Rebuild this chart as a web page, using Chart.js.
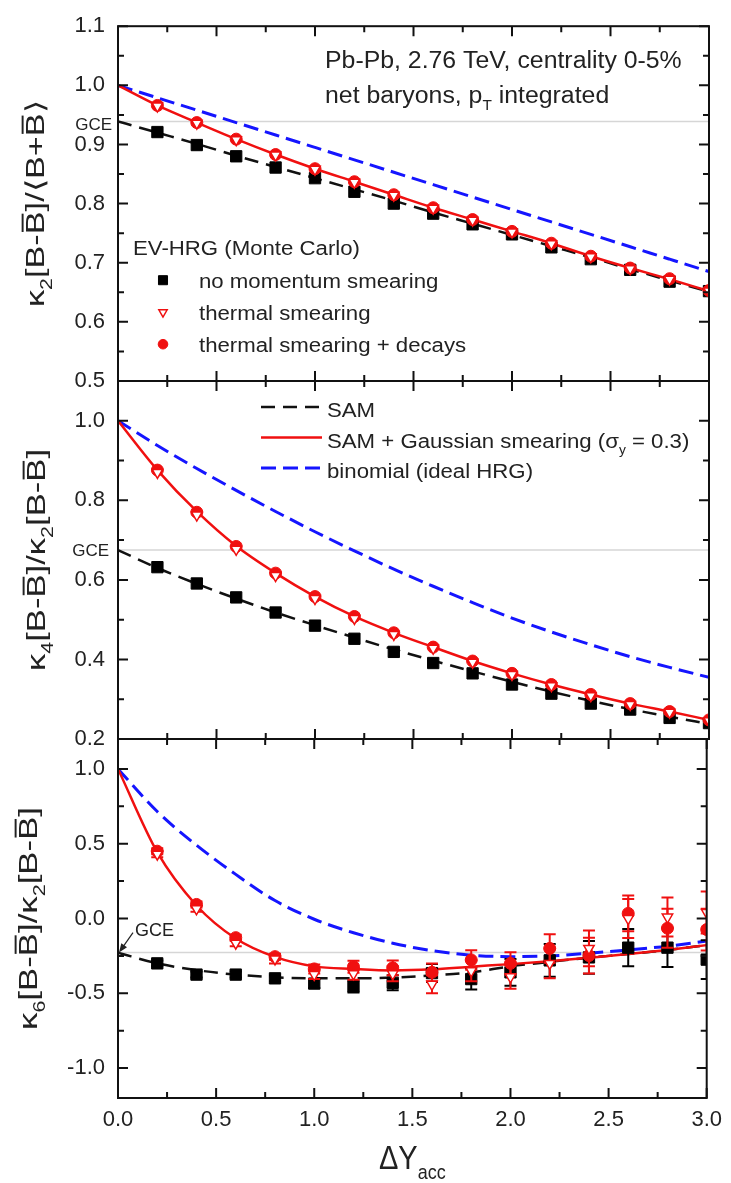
<!DOCTYPE html>
<html>
<head>
<meta charset="utf-8">
<script src="https://cdn.jsdelivr.net/npm/chart.js@4.4.1/dist/chart.umd.min.js"></script>
<style>
    html, body { margin: 0; padding: 0; background: #fff; }
    #wrap { position: relative; width: 731px; height: 1183px; }
    canvas { position: absolute; left: 0; top: 0; }
</style>
</head>
<body>
<div id="wrap">
    <canvas id="k2" width="731" height="1183"></canvas>
    <canvas id="k4" width="731" height="1183"></canvas>
    <canvas id="k6" width="731" height="1183"></canvas>
</div>
<script>
const FONT = "'Liberation Sans', Arial, Helvetica, sans-serif";

// shared x values (Delta Y_acc)
const dyPoints = [0.2, 0.4, 0.6, 0.8, 1.0, 1.2, 1.4, 1.6, 1.8, 2.0, 2.2, 2.4, 2.6, 2.8, 3.0];
const dyCurve = [0, 0.2, 0.4, 0.6, 0.8, 1.0, 1.2, 1.4, 1.6, 1.8, 2.0, 2.2, 2.4, 2.6, 2.8, 3.0];
const xTickVals = [0, 0.5, 1.0, 1.5, 2.0, 2.5, 3.0];
const xRange = [0, 3];

// panel 1: kappa2 / <B+Bbar>
const k2Ticks = [0.5, 0.6, 0.7, 0.8, 0.9, 1.0, 1.1];
const k2Range = [0.5, 1.1];
const k2Gce = 0.939;
const k2NoSmear = [0.921, 0.899, 0.880, 0.861, 0.843, 0.820, 0.800, 0.783, 0.765, 0.748, 0.726, 0.706, 0.688, 0.668, 0.652];
const k2Thermal = [0.965, 0.936, 0.908, 0.882, 0.858, 0.836, 0.814, 0.792, 0.772, 0.752, 0.732, 0.710, 0.690, 0.672, 0.652];
const k2Decays = [0.966, 0.937, 0.909, 0.883, 0.859, 0.837, 0.815, 0.793, 0.773, 0.753, 0.733, 0.711, 0.691, 0.673, 0.653];
const k2Sam = [0.939, 0.920, 0.901, 0.881, 0.862, 0.843, 0.824, 0.805, 0.785, 0.766, 0.747, 0.728, 0.709, 0.689, 0.670, 0.651];
const k2SamGauss = [1.0, 0.966, 0.937, 0.909, 0.883, 0.859, 0.837, 0.815, 0.793, 0.773, 0.753, 0.733, 0.711, 0.691, 0.672, 0.652];
const k2Binomial = [1.0, 0.979, 0.958, 0.937, 0.916, 0.895, 0.874, 0.853, 0.832, 0.811, 0.790, 0.769, 0.748, 0.727, 0.706, 0.685];

// panel 2: kappa4 / kappa2
const k4Ticks = [0.2, 0.4, 0.6, 0.8, 1.0];
const k4Range = [0.2, 1.1];
const k4Gce = 0.675;
const k4NoSmear = [0.632, 0.591, 0.556, 0.518, 0.485, 0.452, 0.419, 0.391, 0.365, 0.337, 0.314, 0.289, 0.274, 0.253, 0.240];
const k4Thermal = [0.870, 0.763, 0.677, 0.611, 0.553, 0.503, 0.463, 0.428, 0.393, 0.362, 0.334, 0.309, 0.287, 0.267, 0.246];
const k4Decays = [0.876, 0.770, 0.684, 0.617, 0.558, 0.508, 0.467, 0.431, 0.396, 0.365, 0.337, 0.312, 0.289, 0.269, 0.248];
const k4Sam = [0.675, 0.630, 0.590, 0.553, 0.518, 0.486, 0.455, 0.425, 0.397, 0.370, 0.344, 0.319, 0.296, 0.275, 0.256, 0.238];
const k4SamGauss = [1.0, 0.876, 0.772, 0.685, 0.617, 0.558, 0.508, 0.467, 0.431, 0.396, 0.365, 0.337, 0.312, 0.289, 0.269, 0.248];
const k4Binomial = [1.0, 0.938, 0.880, 0.825, 0.772, 0.721, 0.673, 0.627, 0.584, 0.543, 0.504, 0.469, 0.437, 0.407, 0.380, 0.355];

// panel 3: kappa6 / kappa2
const k6Ticks = [-1.0, -0.5, 0.0, 0.5, 1.0];
const k6Range = [-1.2, 1.2];
const k6Gce = -0.228;
const k6NoSmear = [-0.30, -0.375, -0.375, -0.40, -0.435, -0.455, -0.43, -0.365, -0.405, -0.36, -0.28, -0.26, -0.195, -0.195, -0.275];
const k6NoSmearErr = [0.02, 0.02, 0.02, 0.02, 0.03, 0.04, 0.05, 0.06, 0.07, 0.09, 0.11, 0.11, 0.125, 0.13, 0.13];
const k6Thermal = [0.43, 0.065, -0.165, -0.27, -0.375, -0.37, -0.37, -0.44, -0.35, -0.39, -0.30, -0.20, 0.0, 0.01, 0.04];
const k6ThermalErr = [0.02, 0.02, 0.02, 0.03, 0.03, 0.04, 0.05, 0.06, 0.07, 0.08, 0.10, 0.12, 0.13, 0.13, 0.14];
const k6Decays = [0.45, 0.094, -0.128, -0.255, -0.337, -0.322, -0.33, -0.36, -0.277, -0.30, -0.20, -0.248, 0.034, -0.065, -0.074];
const k6DecaysErr = [0.02, 0.02, 0.02, 0.02, 0.03, 0.04, 0.05, 0.06, 0.065, 0.075, 0.095, 0.12, 0.12, 0.13, 0.14];
const k6Sam = [-0.228, -0.30, -0.345, -0.375, -0.393, -0.40, -0.40, -0.395, -0.38, -0.36, -0.32, -0.29, -0.262, -0.238, -0.21, -0.178];
const k6SamGauss = [1.0, 0.443, 0.087, -0.134, -0.257, -0.32, -0.337, -0.347, -0.34, -0.322, -0.305, -0.285, -0.262, -0.238, -0.21, -0.178];
const k6Binomial = [1.0, 0.715, 0.49, 0.295, 0.12, -0.005, -0.095, -0.165, -0.215, -0.245, -0.255, -0.25, -0.232, -0.21, -0.185, -0.15];

const markerLabels = ["no momentum smearing", "thermal smearing", "thermal smearing + decays"];
const lineLabels = ["SAM", "SAM + Gaussian smearing (σ", "binomial (ideal HRG)"];

Chart.defaults.font.family = FONT;
Chart.defaults.color = "#222";

function pts(xs, ys){
    return xs.map((x, i) => ({ x: x, y: ys[i] }));
}

function curve(data, color, width, dash){
    return {
        data: data,
        borderColor: color,
        borderWidth: width,
        borderDash: dash || [],
        pointRadius: 0,
        showLine: true,
        fill: false,
        cubicInterpolationMode: "monotone"
    };
}

function markers(data, style, fill, stroke, radius, errors){
    return {
        data: data,
        showLine: false,
        pointStyle: style,
        pointRadius: radius,
        pointBackgroundColor: fill,
        pointBorderColor: stroke,
        pointBorderWidth: style === "triangle" ? 1.5 : 1,
        pointRotation: style === "triangle" ? 180 : 0,
        borderColor: stroke,
        errors: errors
    };
}

// datasets in drawing order: first one ends up on top
function panelDatasets(noSmear, thermal, decays, sam, samGauss, binomial, gce, errs){
    errs = errs || [];
    return [
        markers(pts(dyPoints, thermal), "triangle", "#fff", "#f01010", 6, errs[1]),
        markers(pts(dyPoints, decays), "circle", "#f01010", "#f01010", 6, errs[2]),
        markers(pts(dyPoints, noSmear), "rect", "#000", "#000", 8, errs[0]),
        curve(pts(dyCurve, samGauss), "#f01010", 2.5),
        curve(pts(dyCurve, sam), "#111", 2.5, [14, 8]),
        curve(pts(dyCurve, binomial), "#1515ff", 3, [15, 7]),
        curve(pts(xRange, [gce, gce]), "#d6d6d6", 1.5)
    ];
}

// rich text: parts = [{t, sub, bar}]
function richWidth(ctx, parts, size){
    let w = 0;
    parts.forEach(p => {
        ctx.font = (p.sub ? size * 0.62 : size) + "px " + FONT;
        w += ctx.measureText(p.t).width;
    });
    return w;
}

function drawRich(ctx, parts, x, y, size, align, stretch){
    ctx.save();
    ctx.translate(x, y);
    ctx.scale(stretch || 1, 1);
    let cx = align === "center" ? -richWidth(ctx, parts, size) / 2 : 0;
    ctx.textAlign = "left";
    ctx.textBaseline = "alphabetic";
    parts.forEach(p => {
        const fs = p.sub ? size * 0.62 : size;
        ctx.font = fs + "px " + FONT;
        const w = ctx.measureText(p.t).width;
        ctx.fillText(p.t, cx, p.sub ? size * 0.3 : 0);
        if (p.bar) ctx.fillRect(cx + w * 0.1, -size * 0.86, w * 0.8, Math.max(1.5, size * 0.075));
        cx += w;
    });
    ctx.restore();
}

function yTitle(ctx, parts, baseX, cy, target){
    ctx.save();
    ctx.translate(baseX, cy);
    ctx.rotate(-Math.PI / 2);
    const w = richWidth(ctx, parts, 26);
    drawRich(ctx, parts, 0, 0, 26, "center", target / w);
    ctx.restore();
}

function gceLabel(ctx, xRight, yBase){
    ctx.save();
    ctx.font = "17px " + FONT;
    ctx.textAlign = "right";
    ctx.fillText("GCE", xRight, yBase);
    ctx.restore();
}

function drawMarker(ctx, ds, x, y, scale){
    ctx.save();
    ctx.fillStyle = ds.pointBackgroundColor;
    ctx.strokeStyle = ds.pointBorderColor;
    ctx.lineWidth = ds.pointBorderWidth;
    Chart.helpers.drawPoint(ctx, {
        pointStyle: ds.pointStyle,
        radius: ds.pointRadius * scale,
        rotation: ds.pointRotation,
        borderWidth: ds.pointBorderWidth
    }, x, y);
    ctx.restore();
}

// inward ticks on all four sides plus the frame
function frameTicks(yMajor, yMinor){
    return {
        id: "frameTicks",
        afterDatasetsDraw(chart){
            const { ctx, chartArea: a, scales: { x, y } } = chart;
            const near = (list, v) => list.some(t => Math.abs(t - v) < 1e-6);
            ctx.save();
            ctx.strokeStyle = "#111";
            ctx.lineWidth = 2;
            ctx.beginPath();
            for (let i = Math.ceil(x.min / 0.25 - 1e-9); i * 0.25 <= x.max + 1e-9; i++){
                const v = i * 0.25;
                const len = near(xTickVals, v) ? 10 : 6;
                const px = x.getPixelForValue(v);
                ctx.moveTo(px, a.bottom); ctx.lineTo(px, a.bottom - len);
                ctx.moveTo(px, a.top); ctx.lineTo(px, a.top + len);
            }
            for (let i = Math.ceil(y.min / yMinor - 1e-9); i * yMinor <= y.max + 1e-9; i++){
                const v = i * yMinor;
                const len = near(yMajor, v) ? 10 : 6;
                const py = y.getPixelForValue(v);
                ctx.moveTo(a.left, py); ctx.lineTo(a.left + len, py);
                ctx.moveTo(a.right, py); ctx.lineTo(a.right - len, py);
            }
            ctx.stroke();
            ctx.strokeRect(a.left, a.top, a.right - a.left, a.bottom - a.top);
            ctx.restore();
        }
    };
}

const errorBars = {
    id: "errorBars",
    beforeDatasetDraw(chart, args){
        const ds = chart.data.datasets[args.index];
        if (!ds.errors) return;
        const { ctx, chartArea: a, scales: { y } } = chart;
        ctx.save();
        ctx.beginPath();
        ctx.rect(a.left, a.top, a.right - a.left, a.bottom - a.top);
        ctx.clip();
        ctx.strokeStyle = ds.pointBorderColor;
        ctx.lineWidth = 2;
        args.meta.data.forEach((pt, i) => {
            const v = ds.data[i].y, e = ds.errors[i];
            const y1 = y.getPixelForValue(v + e), y2 = y.getPixelForValue(v - e);
            ctx.beginPath();
            ctx.moveTo(pt.x, y1); ctx.lineTo(pt.x, y2);
            ctx.moveTo(pt.x - 6, y1); ctx.lineTo(pt.x + 6, y1);
            ctx.moveTo(pt.x - 6, y2); ctx.lineTo(pt.x + 6, y2);
            ctx.stroke();
        });
        ctx.restore();
    }
};

function buildPanel(id, cfg){
    return new Chart(document.getElementById(id), {
        type: "line",
        data: { datasets: cfg.datasets },
        options: {
            responsive: false,
            animation: false,
            devicePixelRatio: 1,
            events: [],
            layout: {
                autoPadding: false,
                padding: { left: 0, right: 22, top: cfg.top, bottom: cfg.bottom }
            },
            plugins: {
                legend: { display: false },
                tooltip: { enabled: false }
            },
            scales: {
                x: {
                    type: "linear",
                    min: xRange[0],
                    max: xRange[1],
                    display: cfg.showX,
                    grid: { display: false, drawTicks: false },
                    border: { display: false },
                    ticks: { font: { size: 22 }, padding: 9, color: "#222", callback: v => v.toFixed(1) },
                    afterBuildTicks: s => { s.ticks = xTickVals.map(v => ({ value: v })); },
                    afterFit: s => { s.height = cfg.showX ? 85 : 0; }
                },
                y: {
                    type: "linear",
                    min: cfg.range[0],
                    max: cfg.range[1],
                    grid: { display: false, drawTicks: false },
                    border: { display: false },
                    ticks: { font: { size: 22 }, padding: 13, color: "#222", callback: v => v.toFixed(1) },
                    afterBuildTicks: s => { s.ticks = cfg.ticks.map(v => ({ value: v })); },
                    afterFit: s => { s.width = 118; }
                }
            }
        },
        plugins: [errorBars, frameTicks(cfg.ticks, cfg.minor), { id: "decor", afterDraw: cfg.decor }]
    });
}

function decorK2(chart){
    const { ctx, chartArea: a, scales: { y } } = chart;
    const ds = chart.data.datasets;
    ctx.save();
    ctx.fillStyle = "#222";
    yTitle(ctx, [{ t: "κ" }, { t: "2", sub: 1 }, { t: "[B-" }, { t: "B", bar: 1 }, { t: "]/⟨B+" }, { t: "B", bar: 1 }, { t: "⟩" }],
        44, (a.top + a.bottom) / 2, 207);
    gceLabel(ctx, a.left - 6, y.getPixelForValue(k2Gce) + 9);

    drawRich(ctx, [{ t: "Pb-Pb, 2.76 TeV, centrality 0-5%" }], a.left + 207, a.top + 42, 23, "left", 1.08);
    drawRich(ctx, [{ t: "net baryons, p" }, { t: "T", sub: 1 }, { t: " integrated" }], a.left + 207, a.top + 77, 23, "left", 1.08);

    drawRich(ctx, [{ t: "EV-HRG (Monte Carlo)" }], a.left + 15, a.top + 229, 20, "left", 1.11);
    [ds[2], ds[0], ds[1]].forEach((d, i) => {
        const my = a.top + 254 + i * 32;
        drawMarker(ctx, d, a.left + 45, my, 0.8);
        ctx.fillStyle = "#222";
        drawRich(ctx, [{ t: markerLabels[i] }], a.left + 81, my + 8, 20, "left", 1.11);
    });
    ctx.restore();
}

function decorK4(chart){
    const { ctx, chartArea: a, scales: { y } } = chart;
    const ds = chart.data.datasets;
    ctx.save();
    ctx.fillStyle = "#222";
    yTitle(ctx, [{ t: "κ" }, { t: "4", sub: 1 }, { t: "[B-" }, { t: "B", bar: 1 }, { t: "]/κ" }, { t: "2", sub: 1 }, { t: "[B-" }, { t: "B", bar: 1 }, { t: "]" }],
        45, (a.top + a.bottom) / 2, 222);
    gceLabel(ctx, a.left - 9, y.getPixelForValue(k4Gce) + 6);

    const texts = [
        [{ t: lineLabels[0] }],
        [{ t: lineLabels[1] }, { t: "y", sub: 1 }, { t: " = 0.3)" }],
        [{ t: lineLabels[2] }]
    ];
    [ds[4], ds[3], ds[5]].forEach((d, i) => {
        const ly = a.top + 26 + i * 30.5;
        ctx.save();
        ctx.strokeStyle = d.borderColor;
        ctx.lineWidth = d.borderWidth;
        ctx.setLineDash(d.borderDash);
        ctx.beginPath();
        ctx.moveTo(a.left + 143, ly);
        ctx.lineTo(a.left + 204, ly);
        ctx.stroke();
        ctx.restore();
        drawRich(ctx, texts[i], a.left + 209, ly + 10, 20, "left", 1.11);
    });
    ctx.restore();
}

function decorK6(chart){
    const { ctx, chartArea: a, scales: { x, y } } = chart;
    ctx.save();
    ctx.fillStyle = "#222";
    yTitle(ctx, [{ t: "κ" }, { t: "6", sub: 1 }, { t: "[B-" }, { t: "B", bar: 1 }, { t: "]/κ" }, { t: "2", sub: 1 }, { t: "[B-" }, { t: "B", bar: 1 }, { t: "]" }],
        37, (a.top + a.bottom) / 2, 223);

    // GCE arrow pointing at the axis
    const tipX = x.getPixelForValue(0) + 1;
    const tipY = y.getPixelForValue(k6Gce);
    const sx = tipX + 14, sy = tipY - 20;
    const dx = tipX - sx, dy = tipY - sy, len = Math.hypot(dx, dy);
    const ux = dx / len, uy = dy / len;
    ctx.strokeStyle = "#222";
    ctx.lineWidth = 1.2;
    ctx.beginPath();
    ctx.moveTo(sx, sy);
    ctx.lineTo(tipX - ux * 6, tipY - uy * 6);
    ctx.stroke();
    ctx.beginPath();
    ctx.moveTo(tipX, tipY);
    ctx.lineTo(tipX - ux * 9 - uy * 3.5, tipY - uy * 9 + ux * 3.5);
    ctx.lineTo(tipX - ux * 9 + uy * 3.5, tipY - uy * 9 - ux * 3.5);
    ctx.closePath();
    ctx.fill();
    ctx.font = "18px " + FONT;
    ctx.textAlign = "left";
    ctx.fillText("GCE", tipX + 16, tipY - 17);

    drawRich(ctx, [{ t: "ΔY" }, { t: "acc", sub: 1 }], (a.left + a.right) / 2, a.bottom + 71, 33, "center", 0.88);
    ctx.restore();
}

buildPanel("k2", {
    top: 23, bottom: 1183 - 381, showX: false,
    range: k2Range, ticks: k2Ticks, minor: 0.05,
    datasets: panelDatasets(k2NoSmear, k2Thermal, k2Decays, k2Sam, k2SamGauss, k2Binomial, k2Gce),
    decor: decorK2
});

buildPanel("k4", {
    top: 381, bottom: 1183 - 739, showX: false,
    range: k4Range, ticks: k4Ticks, minor: 0.1,
    datasets: panelDatasets(k4NoSmear, k4Thermal, k4Decays, k4Sam, k4SamGauss, k4Binomial, k4Gce),
    decor: decorK4
});

buildPanel("k6", {
    top: 739, bottom: 0, showX: true,
    range: k6Range, ticks: k6Ticks, minor: 0.25,
    datasets: panelDatasets(k6NoSmear, k6Thermal, k6Decays, k6Sam, k6SamGauss, k6Binomial, k6Gce,
        [k6NoSmearErr, k6ThermalErr, k6DecaysErr]),
    decor: decorK6
});
</script>
</body>
</html>
